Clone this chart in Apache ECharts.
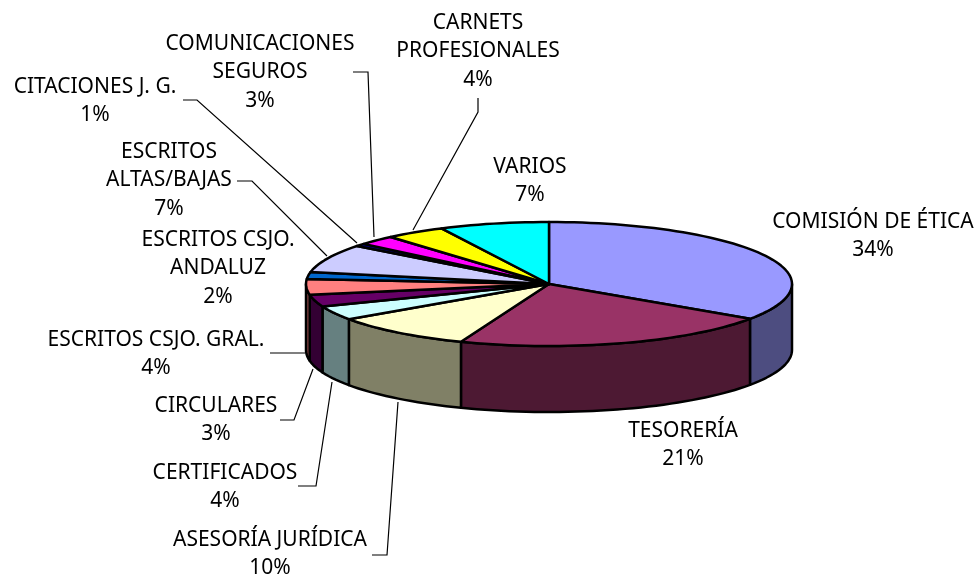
<!DOCTYPE html>
<html>
<head>
<meta charset="utf-8">
<style>html,body{margin:0;background:#fff}#chart{width:976px;height:581px}</style>
<script src="https://cdn.jsdelivr.net/npm/echarts@6/dist/echarts.min.js"></script>
</head>
<body>
<div id="chart"></div>
<script>
// clockwise from 12 o'clock
const categories = ['COMISIÓN DE ÉTICA', 'TESORERÍA', 'ASESORÍA JURÍDICA', 'CERTIFICADOS', 'CIRCULARES', 'ESCRITOS CSJO. GRAL.', 'ESCRITOS CSJO. ANDALUZ', 'ESCRITOS ALTAS/BAJAS', 'CITACIONES J. G.', 'COMUNICACIONES SEGUROS', 'CARNETS PROFESIONALES', 'VARIOS']
// estimated from the slice edges, the printed labels are rounded
const values = [34.5, 21.4, 9.5, 3.7, 3.1, 4.1, 1.8, 7.4, 0.7, 2.5, 4.0, 7.3]
const percentLabels = ['34%', '21%', '10%', '4%', '3%', '4%', '2%', '7%', '1%', '3%', '4%', '7%']
const topColors = ['#9999FF', '#993366', '#FFFFCC', '#CCFFFF', '#660066', '#FF8080', '#0066CC', '#CCCCFF', '#000080', '#FF00FF', '#FFFF00', '#00FFFF']
const sideColors = ['#4D4D80', '#4D1933', '#808066', '#668080', '#330033', '#804040', '#003366', '#666680', '#000040', '#800080', '#808000', '#008080']

// wrapped text of each label, and its centre x / first line y
const labelLines = [
  ['COMISIÓN DE ÉTICA'], ['TESORERÍA'], ['ASESORÍA JURÍDICA'], ['CERTIFICADOS'], ['CIRCULARES'],
  ['ESCRITOS CSJO. GRAL.'], ['ESCRITOS CSJO.', 'ANDALUZ'], ['ESCRITOS', 'ALTAS/BAJAS'],
  ['CITACIONES J. G.'], ['COMUNICACIONES', 'SEGUROS'], ['CARNETS', 'PROFESIONALES'], ['VARIOS'],
]
const labelPos = [[873, 222], [683, 431], [270, 540], [225, 473], [216, 406], [156, 340], [218, 240], [169, 152], [95, 87], [260, 44], [478, 23], [530, 167]]
const leaders = [
  [[183, 100], [197, 100], [357, 243]],
  [[237, 181], [252, 181], [327, 256]],
  [[353, 72], [368, 72], [374, 237]],
  [[478, 98], [478, 112], [413, 230]],
  [[270, 353], [305, 353]],
  [[280, 420], [294, 420], [313, 369]],
  [[298, 486], [316, 486], [332, 382]],
  [[372, 555], [387, 555], [398, 402]],
]

const depth = 66
const total = values.reduce((a, b) => a + b, 0)
let acc = 0
const slices = values.map((v, i) => {
  const start = acc / total * 360
  acc += v
  return { name: categories[i], value: [start, acc / total * 360, i] }
})

// angle in degrees, clockwise from the top, onto the unit circle of the axes
const onRim = (api, deg) => {
  const r = deg * Math.PI / 180
  return api.coord([Math.sin(r), Math.cos(r)])
}
const arc = (api, from, to) => {
  const pts = []
  const n = Math.max(2, Math.ceil((to - from) / 2))
  for (let k = 0; k <= n; k++) pts.push(onRim(api, from + (to - from) * k / n))
  return pts
}

const renderSide = (params, api) => {
  const from = Math.max(api.value(0), 90)
  const to = Math.min(api.value(1), 270)
  if (to <= from) return null
  const upper = arc(api, from, to)
  const lower = upper.map(p => [p[0], p[1] + depth]).reverse()
  return {
    type: 'polygon',
    shape: { points: upper.concat(lower) },
    style: { fill: sideColors[api.value(2)], stroke: '#000', lineWidth: 2.5, lineJoin: 'round' },
  }
}
const renderTop = (params, api) => ({
  type: 'polygon',
  shape: { points: [api.coord([0, 0])].concat(arc(api, api.value(0), api.value(1))) },
  style: { fill: topColors[api.value(2)], stroke: '#000', lineWidth: 2.5, lineJoin: 'round' },
})

const graphic = []
leaders.forEach(points => {
  graphic.push({ type: 'polyline', silent: true, shape: { points }, style: { fill: null, stroke: '#000', lineWidth: 1.2 } })
})
labelLines.forEach((lines, i) => {
  lines.concat(percentLabels[i]).forEach((text, j) => {
    graphic.push({
      type: 'text', silent: true, x: labelPos[i][0], y: labelPos[i][1] + j * 28.5,
      style: { text, fill: '#000', font: '21px "Noto Sans"', textAlign: 'center', textVerticalAlign: 'middle' },
    })
  })
})

const myChart = echarts.init(document.getElementById('chart'), null, { renderer: 'canvas' })
myChart.setOption({
  animation: false,
  backgroundColor: '#fff',
  // the plot rectangle is the bounding box of the tilted top face
  grid: { left: 306, top: 222, width: 486, height: 124 },
  xAxis: { type: 'value', min: -1, max: 1, show: false },
  yAxis: { type: 'value', min: -1, max: 1, show: false },
  series: [
    { type: 'custom', renderItem: renderSide, data: slices, clip: false, encode: { x: 0, y: 1 }, silent: true },
    { type: 'custom', renderItem: renderTop, data: slices, clip: false, encode: { x: 0, y: 1 }, silent: true },
  ],
  graphic,
})
</script>
</body>
</html>
